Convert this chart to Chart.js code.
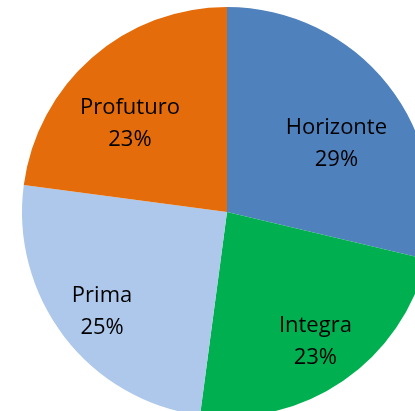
<!DOCTYPE html>
<html>
<head>
<meta charset="utf-8">
<script src="https://cdn.jsdelivr.net/npm/chart.js@4"></script>
<style>
  html, body { margin: 0; padding: 0; background: #fff; overflow: hidden; }
  #wrap { position: relative; width: 454px; height: 424px; }
</style>
</head>
<body>
<div id="wrap"><canvas id="myChart" width="454" height="424"></canvas></div>
<script>
  // Data
  const categories = ['Horizonte', 'Integra', 'Prima', 'Profuturo'];
  const shares = [28.7, 23.4, 25.0, 22.9];
  const sliceColors = ['#4F81BD', '#00B050', '#ADC8EB', '#E46C0A'];

  // label placement tweaks (like Excel's best fit): radius factor, angle shift in degrees
  const labelRadius = [0.634, 0.76, 0.776, 0.644];
  const labelShift = [5.7, 0, -0.8, -6.1];

  const pieLabels = {
    id: 'pieLabels',
    afterDatasetsDraw(chart) {
      const ctx = chart.ctx;
      const meta = chart.getDatasetMeta(0);
      const total = shares.reduce((a, b) => a + b, 0);
      ctx.save();
      ctx.fillStyle = '#000';
      ctx.font = '22px "Open Sans"';
      ctx.textAlign = 'center';
      ctx.textBaseline = 'middle';
      meta.data.forEach(function (arc, i) {
        const p = arc.getProps(['x', 'y', 'startAngle', 'endAngle', 'outerRadius'], true);
        const mid = (p.startAngle + p.endAngle) / 2 + labelShift[i] * Math.PI / 180;
        const r = p.outerRadius * labelRadius[i];
        const cx = p.x + Math.cos(mid) * r;
        const cy = p.y + Math.sin(mid) * r + 1.5;
        const pct = Math.round(shares[i] / total * 100) + '%';
        ctx.fillText(categories[i], cx, cy - 16);
        ctx.fillText(pct, cx, cy + 16);
      });
      ctx.restore();
    }
  };

  new Chart(document.getElementById('myChart').getContext('2d'), {
    type: 'pie',
    data: {
      labels: categories,
      datasets: [{
        data: shares,
        backgroundColor: sliceColors,
        borderWidth: 0
      }]
    },
    options: {
      responsive: false,
      animation: false,
      layout: { padding: { left: 22, right: 22, top: 7, bottom: 7 } },
      plugins: {
        legend: { display: false },
        tooltip: { enabled: false }
      }
    },
    plugins: [pieLabels]
  });
</script>
</body>
</html>
